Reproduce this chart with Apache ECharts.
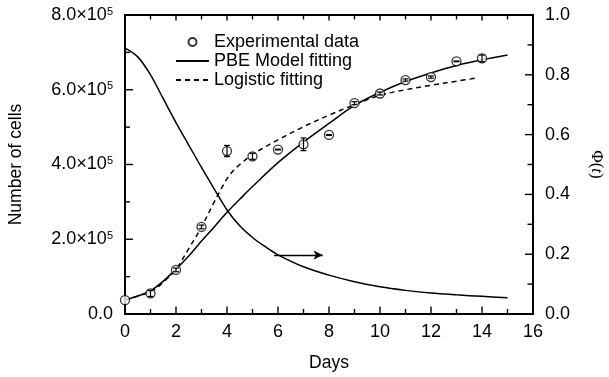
<!DOCTYPE html>
<html>
<head>
<meta charset="utf-8">
<script src="https://cdn.jsdelivr.net/npm/echarts@6/dist/echarts.min.js"></script>
<style>html,body{margin:0;padding:0;background:#fff}#c{width:609px;height:377px}</style>
</head>
<body>
<div id="c"></div>
<script>
// Experimental data (days, number of cells, error)
const expDays = [0, 1, 2, 3, 4, 5, 6, 7, 8, 9, 10, 11, 12, 13, 14];
const expCells = [37000, 55000, 118000, 233000, 436000, 422000, 440000, 454000, 479000, 564000, 590000, 626000, 634000, 676000, 684000];
const expErr = [0, 8000, 5000, 5000, 15000, 8000, 1000, 17000, 1000, 4000, 4000, 3000, 3000, 1000, 9000];

// PBE model fitting curve
const pbeDays = [0, 0.5, 1, 1.5, 2, 2.5, 3, 3.5, 4, 4.5, 5, 6, 7, 8, 9, 10, 11, 12, 13, 14, 15];
const pbeCells = [37000, 48000, 62000, 88000, 120000, 155000, 195000, 233000, 272000, 307000, 341000, 405000, 460000, 510000, 558000, 593000, 622000, 645000, 665000, 680000, 693000];

// Logistic fitting curve
const logDays = [0, 1, 1.5, 2, 2.5, 3, 3.5, 3.75, 4, 4.25, 4.5, 5, 5.5, 6, 7, 8, 9, 10, 11, 12, 13, 13.85];
const logCells = [38000, 60000, 85000, 120000, 175000, 233000, 300000, 332000, 362000, 384000, 400000, 427000, 447000, 466000, 501000, 532000, 560000, 585000, 600000, 612000, 623000, 632000];

// Phi(t) curve (right axis)
const phiDays = [0, 0.5, 1, 1.5, 2, 2.5, 3, 3.5, 4, 4.5, 5, 5.5, 6, 7, 8, 9, 10, 11, 12, 13, 14, 15];
const phiVals = [0.889, 0.86, 0.8, 0.72, 0.64, 0.565, 0.49, 0.418, 0.348, 0.295, 0.256, 0.225, 0.198, 0.158, 0.13, 0.108, 0.091, 0.079, 0.07, 0.064, 0.059, 0.054];

// Arrow annotation pointing to right axis (days, phi)
const arrowFrom = [5.85, 0.197];
const arrowTo = [7.75, 0.197];

// Tick positions (every other one is a major, labelled tick)
const xTickVals = [0, 1, 2, 3, 4, 5, 6, 7, 8, 9, 10, 11, 12, 13, 14, 15, 16];
const yTickVals = [0, 100000, 200000, 300000, 400000, 500000, 600000, 700000, 800000];
const phiTickVals = [0, 0.1, 0.2, 0.3, 0.4, 0.5, 0.6, 0.7, 0.8, 0.9, 1.0];

const legendNames = ['Experimental data', 'PBE Model fitting', 'Logistic fitting'];

const FONT = 'Liberation Sans, Arial, Helvetica, sans-serif';
const zip = (a, b) => a.map((x, i) => [x, b[i]]);

const chart = echarts.init(document.getElementById('c'), null, {renderer: 'canvas'});

function axisLine() { return {show: true, onZero: false, lineStyle: {color: '#000', width: 2}}; }

// Tick marks drawn as thin rectangle symbols placed on the axes' own scales
function tickMarks(name, yAxisIndex, items) {
  return {
    name: name, type: 'scatter', xAxisIndex: 0, yAxisIndex: yAxisIndex, z: 10, silent: true,
    clip: false, symbol: 'rect', itemStyle: {color: '#000', opacity: 1},
    emphasis: {disabled: true}, data: items
  };
}
const TW = 1.4;
const bottomTicks = xTickVals.map((v, i) => {
  const l = i % 2 === 0 ? 6.5 : 4;
  return {value: [v, 0], symbolSize: [TW, l], symbolOffset: [0, -(l / 2 + 1)]};
});
const topTicks = xTickVals.map((v, i) => {
  const l = i % 2 === 0 ? 4.5 : 3.5;
  return {value: [v, 800000], symbolSize: [TW, l], symbolOffset: [0, l / 2 + 1]};
});
const leftTicks = yTickVals.map((v, i) => {
  const l = i % 2 === 0 ? 7 : 4;
  return {value: [0, v], symbolSize: [l, TW], symbolOffset: [l / 2 + 1, 0]};
});
const rightTicks = phiTickVals.map((v, i) => {
  const l = i % 2 === 0 ? 7 : 4.5;
  return {value: [16, v], symbolSize: [l, TW], symbolOffset: [-(l / 2 + 1), 0]};
});

chart.setOption({
  animation: false,
  backgroundColor: '#fff',
  textStyle: {fontFamily: FONT, color: '#000'},
  grid: {left: 125, right: 76, top: 15, bottom: 63, containLabel: false, outerBoundsMode: 'none'},
  legend: {
    data: [
      {name: legendNames[0]},
      {name: legendNames[1], itemStyle: {opacity: 0}},
      {name: legendNames[2], itemStyle: {opacity: 0}}
    ],
    orient: 'vertical',
    left: 170, top: 28,
    itemWidth: 33, itemHeight: 8, itemGap: 1,
    textStyle: {fontFamily: FONT, fontSize: 18, color: '#000'},
    selectedMode: false
  },
  xAxis: [
    {
      type: 'value', min: 0, max: 16, interval: 2, position: 'bottom',
      name: 'Days', nameLocation: 'middle', nameGap: 40,
      nameTextStyle: {fontFamily: FONT, fontSize: 17.5, color: '#000'},
      axisLine: axisLine(), axisTick: {show: false},
      splitLine: {show: false},
      axisLabel: {fontFamily: FONT, fontSize: 18, color: '#000', margin: 9}
    },
    {
      type: 'value', min: 0, max: 16, interval: 2, position: 'top',
      axisLine: axisLine(), axisTick: {show: false},
      splitLine: {show: false},
      axisLabel: {show: false}
    }
  ],
  yAxis: [
    {
      type: 'value', min: 0, max: 800000, interval: 200000, position: 'left',
      name: 'Number of cells', nameLocation: 'middle', nameGap: 100, nameRotate: 90,
      nameTextStyle: {fontFamily: FONT, fontSize: 17.5, color: '#000'},
      axisLine: axisLine(), axisTick: {show: false},
      splitLine: {show: false},
      axisLabel: {
        margin: 12, fontFamily: FONT, fontSize: 18, color: '#000',
        formatter: v => v === 0 ? '0.0' : '{m|' + (v / 1e5).toFixed(1) + '×10}{s|5}',
        rich: {
          m: {fontFamily: FONT, fontSize: 18, color: '#000'},
          s: {fontFamily: FONT, fontSize: 11, color: '#000', verticalAlign: 'top'}
        }
      }
    },
    {
      type: 'value', min: 0, max: 1, interval: 0.2, position: 'right',
      name: '{n|Φ(}{i|t}{n|)}', nameLocation: 'middle', nameGap: 55, nameRotate: -90,
      nameTextStyle: {
        fontFamily: 'Liberation Serif, serif', fontSize: 17, color: '#000',
        rich: {
          n: {fontFamily: 'Liberation Serif, serif', fontSize: 17, color: '#000'},
          i: {fontFamily: 'Liberation Serif, serif', fontSize: 17, color: '#000', fontStyle: 'italic'}
        }
      },
      axisLine: axisLine(), axisTick: {show: false},
      splitLine: {show: false},
      axisLabel: {margin: 12, fontFamily: FONT, fontSize: 18, color: '#000', formatter: v => v.toFixed(1)}
    }
  ],
  series: [
    {
      name: 'PBE Model fitting', type: 'line', xAxisIndex: 0, yAxisIndex: 0,
      data: zip(pbeDays, pbeCells), smooth: 0.35, symbol: 'none',
      lineStyle: {color: '#000', width: 1.5, type: 'solid'}, itemStyle: {color: '#000'}, z: 2
    },
    {
      name: 'Logistic fitting', type: 'line', xAxisIndex: 0, yAxisIndex: 0,
      data: zip(logDays, logCells), smooth: 0.35, symbol: 'none',
      lineStyle: {color: '#000', width: 1.5, type: [5, 4]}, itemStyle: {color: '#000'}, z: 2
    },
    {
      name: 'Phi', type: 'line', xAxisIndex: 0, yAxisIndex: 1,
      data: zip(phiDays, phiVals), smooth: 0.35, symbol: 'none',
      lineStyle: {color: '#000', width: 1.5}, itemStyle: {color: '#000'}, z: 2,
      markLine: {
        silent: true, animation: false,
        symbol: ['none', 'arrow'], symbolSize: [7, 9],
        label: {show: false},
        lineStyle: {color: '#000', width: 1.3, type: 'solid'},
        data: [[{coord: arrowFrom}, {coord: arrowTo}]]
      }
    },
    {
      name: 'Experimental data', type: 'scatter', xAxisIndex: 0, yAxisIndex: 0,
      data: zip(expDays, expCells), symbol: 'circle', symbolSize: 9, clip: false,
      itemStyle: {color: '#fff', borderColor: '#000', borderWidth: 1.3}, z: 4
    },
    {
      name: 'errors', type: 'custom', xAxisIndex: 0, yAxisIndex: 0, z: 5, silent: true,
      data: expDays.map((d, i) => [d, expCells[i] - expErr[i], expCells[i] + expErr[i]]),
      renderItem: function (params, api) {
        const x = api.value(0);
        const lo = api.coord([x, api.value(1)]);
        const hi = api.coord([x, api.value(2)]);
        if (Math.abs(lo[1] - hi[1]) < 0.1) return null;
        const w = 3;
        const st = {stroke: '#000', lineWidth: 1.2};
        return {
          type: 'group',
          children: [
            {type: 'line', shape: {x1: lo[0], y1: lo[1], x2: hi[0], y2: hi[1]}, style: st},
            {type: 'line', shape: {x1: lo[0] - w, y1: lo[1], x2: lo[0] + w, y2: lo[1]}, style: st},
            {type: 'line', shape: {x1: hi[0] - w, y1: hi[1], x2: hi[0] + w, y2: hi[1]}, style: st}
          ]
        };
      }
    },
    tickMarks('tb', 0, bottomTicks),
    tickMarks('tt', 0, topTicks),
    tickMarks('tl', 0, leftTicks),
    tickMarks('tr', 1, rightTicks)
  ]
});
</script>
</body>
</html>
